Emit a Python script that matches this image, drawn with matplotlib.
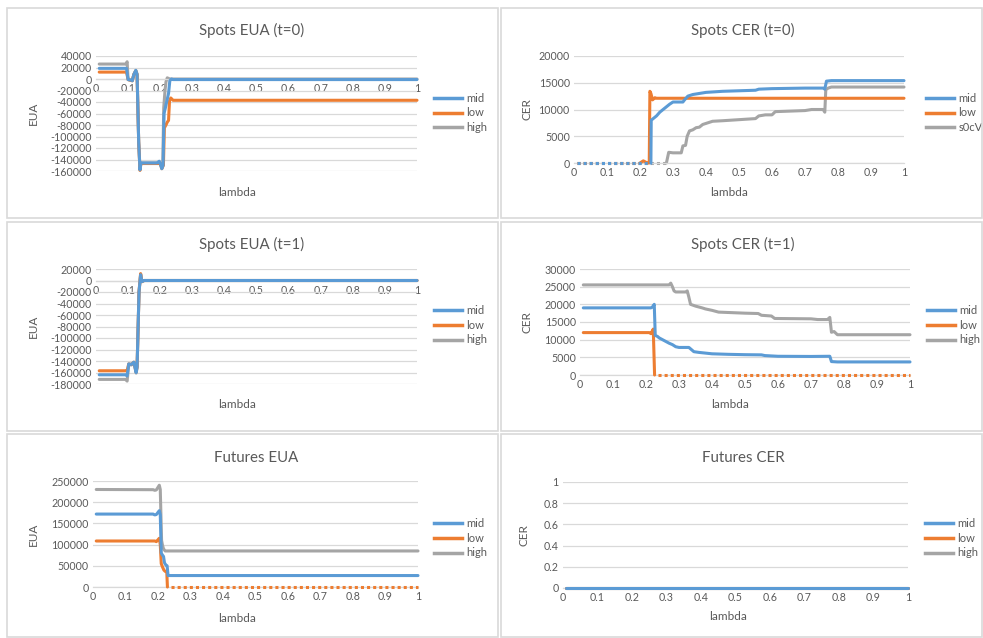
import matplotlib
matplotlib.use('Agg')
import matplotlib.pyplot as plt
from matplotlib.patches import Rectangle
from matplotlib.ticker import FuncFormatter, MultipleLocator

plt.rcParams['font.family'] = ['Lato', 'DejaVu Sans']
plt.rcParams['axes.unicode_minus'] = False

# colores tipo Excel
C_MID = '#5B9BD5'
C_LOW = '#ED7D31'
C_HIGH = '#A5A5A5'
GRID = '#D9D9D9'
TXT = '#595959'

# ---------------- datos (lambda, valor) ----------------
# Spots EUA (t=0)
eua0_mid_x = [0.01, 0.095, 0.1, 0.11, 0.113, 0.118, 0.124, 0.128, 0.133, 0.137, 0.14, 0.19, 0.197, 0.2, 0.205, 0.209, 0.212, 0.217, 0.222, 0.226, 0.23, 0.235, 0.24, 1.0]
eua0_mid_y = [18500, 18500, -1000, -2000, -3000, 8000, 15000, 8000, -110000, -158000, -146000, -146000, -143000, -147000, -156000, -150000, -60000, -48000, -35000, -25000, -3000, 0, -1000, -1000]
eua0_low_x = [0.01, 0.095, 0.1, 0.113, 0.118, 0.124, 0.128, 0.133, 0.137, 0.14, 0.2, 0.205, 0.21, 0.213, 0.218, 0.222, 0.226, 0.229, 0.233, 0.24, 1.0]
eua0_low_y = [12000, 12000, -1000, -3000, 8000, 14000, 8000, -110000, -159000, -147000, -147000, -156000, -150000, -85000, -80000, -75000, -72000, -38000, -33000, -37000, -37000]
eua0_high_x = [0.01, 0.093, 0.097, 0.1, 0.113, 0.118, 0.124, 0.128, 0.133, 0.137, 0.14, 0.2, 0.205, 0.208, 0.211, 0.215, 0.218, 0.222, 0.23, 1.0]
eua0_high_y = [26000, 26000, 30000, -1000, -3000, 8000, 15000, 8000, -110000, -155000, -146000, -146000, -154000, -150000, -50000, -20000, -5000, 2000, 0, 0]

# Spots CER (t=0)
cer0_mid_dot_x = [0.01, 0.233]
cer0_mid_dot_y = [0, 0]
cer0_mid_x = [0.233, 0.234, 0.24, 0.25, 0.26, 0.27, 0.28, 0.29, 0.3, 0.33, 0.335, 0.345, 0.36, 0.38, 0.4, 0.45, 0.5, 0.55, 0.56, 0.6, 0.7, 0.755, 0.76, 0.765, 0.78, 1.0]
cer0_mid_y = [0, 8000, 8300, 8800, 9500, 10000, 10500, 11000, 11400, 11400, 11800, 12500, 12800, 13000, 13200, 13400, 13500, 13600, 13800, 13900, 14000, 14000, 13800, 15300, 15400, 15400]
cer0_low_dot_x = [0.01, 0.2]
cer0_low_dot_y = [0, 0]
cer0_low_x = [0.2, 0.21, 0.222, 0.228, 0.23, 0.233, 0.238, 0.245, 0.25, 1.0]
cer0_low_y = [0, 400, 0, 0, 13400, 13000, 11800, 12200, 12100, 12100]
cer0_high_dot_x = [0.01, 0.28]
cer0_high_dot_y = [0, 0]
cer0_high_x = [0.28, 0.287, 0.3, 0.325, 0.33, 0.338, 0.343, 0.35, 0.36, 0.37, 0.38, 0.39, 0.4, 0.42, 0.45, 0.5, 0.55, 0.56, 0.58, 0.6, 0.61, 0.7, 0.72, 0.755, 0.76, 0.763, 0.77, 0.78, 1.0]
cer0_high_y = [0, 2000, 1900, 1900, 3200, 3300, 5000, 6000, 6200, 6600, 6700, 7200, 7400, 7800, 7900, 8100, 8300, 8800, 9000, 9000, 9600, 9800, 10000, 10000, 9500, 13700, 14000, 14200, 14200]

# Spots EUA (t=1)
eua1_mid_x = [0.01, 0.092, 0.097, 0.102, 0.11, 0.118, 0.125, 0.128, 0.134, 0.139, 0.143, 0.15, 1.0]
eua1_mid_y = [-164000, -164000, -166000, -145000, -146000, -142000, -160000, -150000, -20000, 10000, -2000, 0, 0]
eua1_low_x = [0.01, 0.092, 0.097, 0.102, 0.11, 0.118, 0.125, 0.128, 0.134, 0.139, 0.143, 0.15, 1.0]
eua1_low_y = [-157000, -157000, -157000, -145000, -146000, -142000, -158000, -150000, -20000, 12000, -2000, 0, 0]
eua1_high_x = [0.01, 0.092, 0.097, 0.102, 0.11, 0.118, 0.125, 0.128, 0.134, 0.139, 0.143, 0.15, 1.0]
eua1_high_y = [-172000, -172000, -175000, -146000, -147000, -143000, -161000, -152000, -20000, 11000, -2000, 0, 0]

# Spots CER (t=1)
cer1_mid_x = [0.01, 0.215, 0.22, 0.225, 0.228, 0.235, 0.24, 0.25, 0.26, 0.27, 0.28, 0.29, 0.3, 0.33, 0.34, 0.345, 0.36, 0.38, 0.4, 0.45, 0.5, 0.55, 0.56, 0.6, 0.7, 0.757, 0.762, 0.78, 1.0]
cer1_mid_y = [19000, 19000, 19300, 20000, 11200, 10900, 10500, 10000, 9500, 9000, 8600, 8000, 7800, 7800, 7000, 6600, 6400, 6200, 6000, 5850, 5750, 5700, 5500, 5300, 5250, 5300, 3800, 3700, 3700]
cer1_low_x = [0.01, 0.21, 0.215, 0.222, 0.226]
cer1_low_y = [12000, 12000, 11700, 13000, 0]
cer1_low_dot_x = [0.235, 1.0]
cer1_low_dot_y = [0, 0]
cer1_high_x = [0.01, 0.27, 0.275, 0.28, 0.285, 0.29, 0.32, 0.325, 0.33, 0.335, 0.35, 0.37, 0.38, 0.4, 0.42, 0.5, 0.54, 0.55, 0.58, 0.59, 0.7, 0.72, 0.75, 0.757, 0.762, 0.77, 0.78, 1.0]
cer1_high_y = [25500, 25500, 26000, 25000, 23800, 23500, 23500, 23800, 22000, 20000, 19500, 19000, 18700, 18300, 17800, 17500, 17400, 16900, 16700, 16000, 15900, 15700, 15700, 16300, 12100, 12300, 11400, 11400]

# Futures EUA
fut_eua_mid_x = [0.01, 0.185, 0.19, 0.195, 0.204, 0.207, 0.21, 0.214, 0.217, 0.22, 0.224, 0.228, 0.231, 1.0]
fut_eua_mid_y = [172000, 172000, 170000, 171000, 180000, 170000, 80000, 75000, 72000, 57000, 52000, 50000, 27000, 27000]
fut_eua_low_x = [0.01, 0.19, 0.195, 0.204, 0.207, 0.21, 0.214, 0.218, 0.222, 0.227, 0.229]
fut_eua_low_y = [108500, 108500, 107000, 115000, 100000, 55000, 47000, 40000, 37000, 35000, 0]
fut_eua_low_dot_x = [0.24, 1.0]
fut_eua_low_dot_y = [0, 0]
fut_eua_high_x = [0.01, 0.185, 0.19, 0.195, 0.204, 0.207, 0.211, 0.214, 0.217, 0.222, 1.0]
fut_eua_high_y = [230000, 229500, 228000, 229000, 240000, 230000, 110000, 98000, 90000, 85000, 85000]

# Futures CER
fut_cer_x = [0.01, 1.0]
fut_cer_mid_y = [0, 0]
fut_cer_low_y = [0, 0]
fut_cer_high_y = [0, 0]

series_names = ['mid', 'low', 'high']

W, H = 983, 638
fig = plt.figure(figsize=(W / 100, H / 100), dpi=100)

# marcos de cada grafica
for (x0, y0, x1, y1) in [(7, 8, 498, 218), (501, 8, 982, 218), (7, 222, 498, 431),
                         (501, 222, 982, 431), (7, 434, 498, 637), (501, 434, 982, 637)]:
    fig.patches.append(Rectangle((x0 / W, 1 - y1 / H), (x1 - x0) / W, (y1 - y0) / H,
                                 transform=fig.transFigure, fill=False, ec=GRID, lw=1.2))


def crear_eje(x0, y0, x1, y1, ymin, ymax, ystep, titulo, ylab, tit_x, tit_y, ylab_x, lam_x, lam_y, cero=False):
    ax = fig.add_axes([x0 / W, 1 - y1 / H, (x1 - x0) / W, (y1 - y0) / H])
    ax.set_xlim(0, 1)
    ax.set_ylim(ymin, ymax)
    ax.xaxis.set_major_locator(MultipleLocator(0.1))
    ax.yaxis.set_major_locator(MultipleLocator(ystep))
    fmt = FuncFormatter(lambda v, p: f'{round(v, 6):g}')
    ax.xaxis.set_major_formatter(fmt)
    ax.yaxis.set_major_formatter(fmt)
    ax.yaxis.grid(True, color=GRID, lw=0.9)
    ax.set_axisbelow(True)
    for s in ['top', 'right', 'left']:
        ax.spines[s].set_visible(False)
    ax.spines['bottom'].set_color(GRID)
    ax.spines['bottom'].set_linewidth(0.9)
    if cero:
        ax.spines['bottom'].set_position(('data', 0))
    ax.tick_params(length=0, colors=TXT, labelsize=7.7, pad=3)
    fig.text(tit_x / W, 1 - tit_y / H, titulo, ha='center', va='center', fontsize=10.8, color=TXT)
    fig.text(ylab_x / W, 1 - ((y0 + y1) / 2) / H, ylab, ha='center', va='center', rotation=90, fontsize=8.5, color=TXT)
    fig.text(lam_x / W, 1 - lam_y / H, 'lambda', ha='center', va='center', fontsize=8.5, color=TXT)
    return ax


def linea(ax, x, y, color, z, dotted=False):
    if dotted:
        ax.plot(x, y, color=color, lw=2.2, linestyle=(0, (1, 1)), dash_capstyle='butt', zorder=z, clip_on=False)
    else:
        ax.plot(x, y, color=color, lw=2.2, solid_capstyle='round', solid_joinstyle='round', zorder=z, clip_on=False)


def leyenda(ax, labels, lx, ly):
    h = [plt.Line2D([], [], color=c, lw=2.5) for c in [C_MID, C_LOW, C_HIGH]]
    ax.legend(h, labels, loc='center left', bbox_to_anchor=(lx / W, 1 - ly / H), bbox_transform=fig.transFigure,
              frameon=False, fontsize=8, labelcolor=TXT, handlelength=2.5, handletextpad=0.4,
              labelspacing=0.35, borderpad=0, borderaxespad=0)


# 1. Spots EUA (t=0)
ax1 = crear_eje(96, 56, 417, 171, -160000, 40000, 20000, 'Spots EUA (t=0)', 'EUA', 252, 30, 33, 237, 192, cero=True)
linea(ax1, eua0_high_x, eua0_high_y, C_HIGH, 2)
linea(ax1, eua0_low_x, eua0_low_y, C_LOW, 3)
linea(ax1, eua0_mid_x, eua0_mid_y, C_MID, 4)
leyenda(ax1, series_names, 434, 113)

# 2. Spots CER (t=0)
ax2 = crear_eje(574, 56, 904, 163, 0, 20000, 5000, 'Spots CER (t=0)', 'CER', 743, 30, 527, 729, 192)
linea(ax2, cer0_high_dot_x, cer0_high_dot_y, C_HIGH, 2, dotted=True)
linea(ax2, cer0_high_x, cer0_high_y, C_HIGH, 2)
linea(ax2, cer0_low_dot_x, cer0_low_dot_y, C_LOW, 3, dotted=True)
linea(ax2, cer0_low_x, cer0_low_y, C_LOW, 3)
linea(ax2, cer0_mid_dot_x, cer0_mid_dot_y, C_MID, 4, dotted=True)
linea(ax2, cer0_mid_x, cer0_mid_y, C_MID, 4)
leyenda(ax2, ['mid', 'low', 's0cV'], 926, 113)

# 3. Spots EUA (t=1)
ax3 = crear_eje(96, 269, 417, 384, -180000, 20000, 20000, 'Spots EUA (t=1)', 'EUA', 252, 244, 33, 237, 405, cero=True)
linea(ax3, eua1_high_x, eua1_high_y, C_HIGH, 2)
linea(ax3, eua1_low_x, eua1_low_y, C_LOW, 3)
linea(ax3, eua1_mid_x, eua1_mid_y, C_MID, 4)
leyenda(ax3, series_names, 434, 325)

# 4. Spots CER (t=1)
ax4 = crear_eje(580, 269, 910, 375, 0, 30000, 5000, 'Spots CER (t=1)', 'CER', 743, 244, 527, 730, 405)
linea(ax4, cer1_high_x, cer1_high_y, C_HIGH, 2)
linea(ax4, cer1_low_x, cer1_low_y, C_LOW, 3)
linea(ax4, cer1_low_dot_x, cer1_low_dot_y, C_LOW, 3, dotted=True)
linea(ax4, cer1_mid_x, cer1_mid_y, C_MID, 4)
leyenda(ax4, series_names, 927, 325)

# 5. Futures EUA
ax5 = crear_eje(93, 481, 418, 587, 0, 250000, 50000, 'Futures EUA', 'EUA', 256, 458, 33, 237, 619)
linea(ax5, fut_eua_high_x, fut_eua_high_y, C_HIGH, 2)
linea(ax5, fut_eua_low_x, fut_eua_low_y, C_LOW, 3)
linea(ax5, fut_eua_low_dot_x, fut_eua_low_dot_y, C_LOW, 3, dotted=True)
linea(ax5, fut_eua_mid_x, fut_eua_mid_y, C_MID, 4)
leyenda(ax5, series_names, 434, 538)

# 6. Futures CER
ax6 = crear_eje(563, 482, 908, 588, 0, 1, 0.2, 'Futures CER', 'CER', 743, 458, 524, 728, 617)
linea(ax6, fut_cer_x, fut_cer_high_y, C_HIGH, 2)
linea(ax6, fut_cer_x, fut_cer_low_y, C_LOW, 3)
linea(ax6, fut_cer_x, fut_cer_mid_y, C_MID, 4)
leyenda(ax6, series_names, 925, 538)

plt.savefig('out.png', dpi=100)
